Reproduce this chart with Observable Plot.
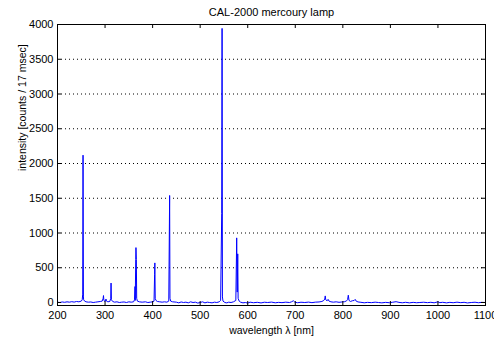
<!DOCTYPE html>
<html>
<head>
<meta charset="utf-8">
<script src="https://cdn.jsdelivr.net/npm/d3@7"></script>
<script src="https://cdn.jsdelivr.net/npm/@observablehq/plot@0.6"></script>
<style>
  html, body { margin: 0; padding: 0; background: white; }
</style>
</head>
<body>
<div id="chart"></div>
<script>
const title = "CAL-2000 mercoury lamp";
const xLabel = "wavelength λ [nm]";
const yLabel = "intensity [counts / 17 msec]";

const wavelength = [
  200, 205, 210, 215, 220, 225, 230, 235, 240, 245, 250, 252, 253, 253.7, 254.5, 255, 257, 260, 265, 270,
  275, 280, 285, 290, 294, 296, 296.7, 297.5, 300, 302, 303, 306, 310, 312, 312.6, 313.3, 316, 320, 325, 330,
  335, 340, 345, 350, 355, 360, 362, 363, 363.5, 364.5, 365, 365.8, 366.5, 368, 372, 378, 385, 390, 395, 400,
  403, 404.2, 404.7, 405.5, 407, 410, 415, 420, 425, 430, 434, 435.3, 435.8, 436.5, 438, 442, 450, 455, 460, 465,
  470, 475, 480, 485, 490, 495, 500, 505, 510, 515, 520, 525, 530, 535, 540, 543, 545.3, 546.1, 546.8, 548,
  552, 556, 560, 565, 570, 575, 576.8, 578, 579, 579.8, 582, 585, 590, 595, 600, 605, 612, 620, 628, 635,
  642, 650, 658, 665, 672, 680, 688, 692, 696, 699, 705, 712, 720, 728, 735, 742, 750, 756, 760, 762,
  763, 764, 767, 769, 771, 775, 780, 786, 792, 798, 804, 808, 810, 811.5, 813, 816, 820, 824, 826, 828,
  832, 838, 845, 852, 860, 868, 875, 882, 890, 898, 905, 912, 918, 925, 932, 940, 948, 955, 962, 970,
  978, 985, 992, 1000, 1004, 1010, 1018, 1025, 1032, 1040, 1048, 1055, 1062, 1070, 1078, 1085, 1092, 1100
];
const intensity = [
  5, 0, 8, 3, 10, 5, 12, 6, 15, 10, 20, 40, 120, 2120, 80, 40, 20, 10, 5, 8,
  0, 5, 10, 15, 20, 60, 100, 30, 15, 50, 20, 10, 15, 60, 280, 40, 15, 5, 10, 0,
  5, 8, 0, 10, 5, 10, 40, 230, 30, 620, 790, 620, 60, 20, 10, 5, 10, 0, 5, 10,
  20, 400, 570, 60, 30, 15, 10, 5, 10, 5, 20, 1130, 1540, 60, 20, 10, 5, -5, 8, 0,
  5, -5, 10, 0, 5, -8, 0, 10, -5, 5, 0, -5, 5, 0, 10, 30, 1280, 3944, 80, 20,
  0, -5, 5, 0, 10, 30, 930, 150, 700, 60, 20, 5, -5, 0, -8, 5, -3, 3, -6, 4,
  0, 6, -4, 2, -2, 5, 0, 10, 25, 5, -3, 4, 0, 6, -2, 5, 8, 15, 30, 50,
  95, 40, 25, 45, 20, 10, 5, 10, 3, 8, 12, 25, 40, 105, 30, 15, 25, 30, 45, 20,
  8, 3, -4, 2, -2, 5, 0, -5, 2, -3, 4, 12, 2, -4, 3, -5, 2, -3, 0, 4,
  -2, 3, -4, 10, -2, 3, -5, 2, -3, 5, -2, 3, -6, 0, 4, -3, 2, 0
];

const xTicks = [200, 300, 400, 500, 600, 700, 800, 900, 1000, 1100];
const yTicks = [0, 500, 1000, 1500, 2000, 2500, 3000, 3500, 4000];
const yGrid = [500, 1000, 1500, 2000, 2500, 3000, 3500];

const spectrum = wavelength.map((w, i) => ({w, v: intensity[i]}));

const W = 494, H = 340;
const mL = 57, mR = 9, mT = 24, mB = 35;
const innerW = W - mL - mR, innerH = H - mT - mB;
const tickLen = 4;
const plain = d => String(d);

const chart = Plot.plot({
  width: W,
  height: H,
  marginLeft: mL,
  marginRight: mR,
  marginTop: mT,
  marginBottom: mB,
  style: {fontFamily: "Liberation Sans, Arial, sans-serif", fontSize: "11px", background: "white", color: "black", overflow: "visible"},
  x: {domain: [200, 1100]},
  y: {domain: [-43, 4000]},
  marks: [
    Plot.ruleY(yGrid, {y: d => d, stroke: "black", strokeDasharray: "1,3", strokeWidth: 1}),
    Plot.line(spectrum, {x: "w", y: "v", stroke: "#0000ff", strokeWidth: 1}),
    Plot.frame({stroke: "black", strokeWidth: 1}),
    Plot.tickX(xTicks, {x: d => d, insetTop: innerH - tickLen, stroke: "black"}),
    Plot.tickX(xTicks, {x: d => d, insetBottom: innerH - tickLen, stroke: "black"}),
    Plot.tickY(yTicks, {y: d => d, insetRight: innerW - tickLen, stroke: "black"}),
    Plot.tickY(yTicks, {y: d => d, insetLeft: innerW - tickLen, stroke: "black"}),
    Plot.axisX(xTicks, {tickSize: 0, tickPadding: 6, label: null, fontSize: 11, tickFormat: plain}),
    Plot.axisY(yTicks, {tickSize: 0, tickPadding: 4, label: null, fontSize: 11, tickFormat: plain}),
    Plot.text([title], {text: d => d, frameAnchor: "top", dy: -12, fontSize: 11, lineAnchor: "middle"}),
    Plot.text([xLabel], {text: d => d, frameAnchor: "bottom", dy: 25, fontSize: 10.5, lineAnchor: "middle"}),
    Plot.text([yLabel], {text: d => d, frameAnchor: "left", dx: -35, dy: 6, rotate: -90, fontSize: 10.5, lineAnchor: "middle"})
  ]
});
document.getElementById("chart").appendChild(chart);
</script>
</body>
</html>
